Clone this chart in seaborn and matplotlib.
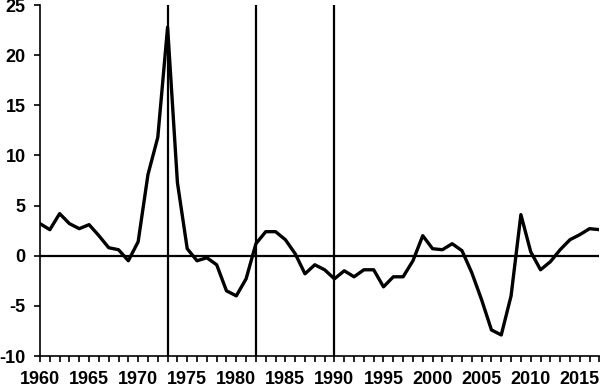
import numpy as np
import pandas as pd
import matplotlib
matplotlib.use("Agg")
import matplotlib.pyplot as plt
import seaborn as sns

years = list(range(1960, 2018))
values = [3.2, 2.6, 4.2, 3.2, 2.7, 3.1, 2.0, 0.8, 0.6, -0.5,
          1.4, 8.1, 11.8, 22.8, 7.3, 0.7, -0.5, -0.2, -0.9, -3.5,
          -4.0, -2.3, 1.2, 2.4, 2.4, 1.6, 0.2, -1.8, -0.9, -1.4,
          -2.3, -1.5, -2.1, -1.4, -1.4, -3.1, -2.1, -2.1, -0.5, 2.0,
          0.7, 0.6, 1.2, 0.5, -1.7, -4.4, -7.4, -7.9, -4.0, 4.1,
          0.4, -1.4, -0.6, 0.6, 1.6, 2.1, 2.7, 2.6]
vlines = [1973, 1982, 1990]
xtick_labels = [1960, 1965, 1970, 1975, 1980, 1985, 1990, 1995, 2000, 2005, 2010, 2015]
ytick_values = [-10, -5, 0, 5, 10, 15, 20, 25]

df = pd.DataFrame({"year": years, "value": values})

sns.set_style("ticks")
plt.rcParams['font.family'] = ['Liberation Sans', 'DejaVu Sans']

fig = plt.figure(figsize=(6.0, 3.89), dpi=100)
ax = fig.add_axes([0.0667, 0.0848, 0.9323, 0.9022])

ax.axhline(0, color="black", lw=1.6, zorder=1)
for v in vlines:
    ax.axvline(v, color="black", lw=1.6, zorder=1)

sns.lineplot(data=df, x="year", y="value", ax=ax, color="black", lw=2.4, zorder=3)

ax.set_xlim(1960, 2017)
ax.set_ylim(-10, 25)
ax.set_xticks(years, minor=True)
ax.set_xticks(xtick_labels)
ax.set_xticklabels([str(t) for t in xtick_labels])
ax.set_yticks(ytick_values)
ax.set_yticklabels([str(t) for t in ytick_values])
ax.tick_params(axis="both", which="major", direction="out", length=4.2, width=1.2,
               labelsize=13, colors="black")
ax.tick_params(axis="y", which="major", pad=6)
ax.tick_params(axis="x", which="major", pad=6.5)
ax.tick_params(axis="x", which="minor", direction="out", length=4.2, width=1.2, colors="black")
for lab in ax.get_xticklabels() + ax.get_yticklabels():
    lab.set_fontweight("bold")
ax.set_xlabel("")
ax.set_ylabel("")
for s in ["top", "right"]:
    ax.spines[s].set_visible(False)
for s in ["left", "bottom"]:
    ax.spines[s].set_linewidth(1.2)
    ax.spines[s].set_color("black")

fig.savefig("out.png", dpi=100)
